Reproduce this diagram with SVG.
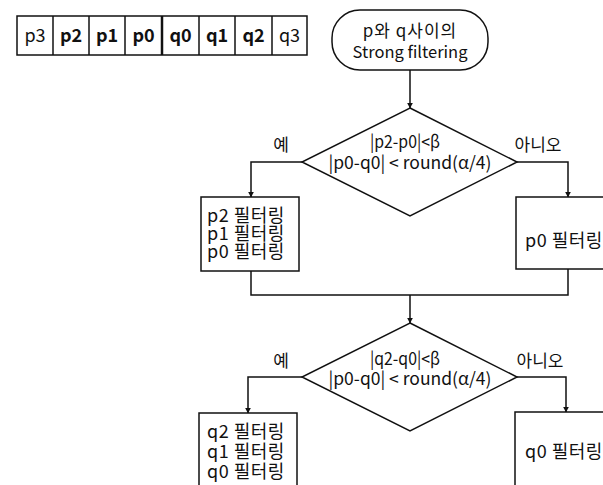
<svg xmlns="http://www.w3.org/2000/svg" width="603" height="485" viewBox="0 0 603 485">
  <style>
    text { font-family: "Noto Sans CJK KR", "Noto Sans", sans-serif; fill: #111; }
    .shape { fill: #fff; stroke: #111; stroke-width: 1.5; }
    .cell { fill: #fff; stroke: #111; stroke-width: 1.5; }
    .cellTxt { font-size: 18px; text-anchor: middle; }
    .bold { font-weight: bold; }
    .mid { text-anchor: middle; font-size: 17.5px; }
    .box { font-size: 18px; letter-spacing: 0.5px; }
    .lbl { font-size: 17px; text-anchor: middle; }
    .conn { fill: none; stroke: #111; stroke-width: 1.5; }
  </style>
  <defs>
    <marker id="arrow" viewBox="0 0 10 10" refX="9" refY="5" markerWidth="6" markerHeight="6" markerUnits="userSpaceOnUse" orient="auto">
      <path d="M0,0 L10,5 L0,10 z" fill="#111"/>
    </marker>
  </defs>
  <rect width="603" height="485" fill="#fff"/>

  <!-- sample strip across the block edge -->
  <g id="samples">
    <rect class="cell" x="17" y="16" width="290" height="39"/>
    <g stroke="#111" stroke-width="1.5">
      <line x1="53" y1="16" x2="53" y2="55"/>
      <line x1="89" y1="16" x2="89" y2="55"/>
      <line x1="125" y1="16" x2="125" y2="55"/>
      <line x1="162" y1="16" x2="162" y2="55" stroke-width="2.5"/>
      <line x1="199" y1="16" x2="199" y2="55"/>
      <line x1="235" y1="16" x2="235" y2="55"/>
      <line x1="272" y1="16" x2="272" y2="55"/>
    </g>
    <text class="cellTxt" x="35" y="42">p3</text>
    <text class="cellTxt bold" x="71" y="42">p2</text>
    <text class="cellTxt bold" x="107" y="42">p1</text>
    <text class="cellTxt bold" x="143.5" y="42">p0</text>
    <text class="cellTxt bold" x="180.5" y="42">q0</text>
    <text class="cellTxt bold" x="217" y="42">q1</text>
    <text class="cellTxt bold" x="253.5" y="42">q2</text>
    <text class="cellTxt" x="289.5" y="42">q3</text>
  </g>

  <!-- connectors -->
  <g id="connectors">
    <line class="conn" x1="410" y1="70" x2="410" y2="108" marker-end="url(#arrow)"/>
    <polyline class="conn" points="302,162 251,162 251,197" marker-end="url(#arrow)"/>
    <polyline class="conn" points="517,162 568,162 568,197" marker-end="url(#arrow)"/>
    <polyline class="conn" points="251,271 251,295 568,295 568,269"/>
    <line class="conn" x1="410" y1="295" x2="410" y2="323" marker-end="url(#arrow)"/>
    <polyline class="conn" points="302,377 248,377 248,413" marker-end="url(#arrow)"/>
    <polyline class="conn" points="517,377 566,377 566,412" marker-end="url(#arrow)"/>
  </g>

  <g id="start">
    <rect class="shape" x="332" y="10" width="156" height="60" rx="28" ry="28"/>
    <text class="mid" x="410" y="37" style="font-size:17px;letter-spacing:1px">p와 q사이의</text>
    <text class="mid" x="410" y="58" style="font-size:16.5px">Strong filtering</text>
  </g>

  <g id="decision-p">
    <polygon class="shape" points="410,108 517,162 410,216 302,162"/>
    <text class="mid" x="405" y="148" textLength="70" lengthAdjust="spacingAndGlyphs">|p2-p0|&lt;β</text>
    <text class="mid" x="410" y="169">|p0-q0| &lt; round(α/4)</text>
  </g>
  <text id="label-p-yes" class="lbl" x="281" y="151">예</text>
  <text id="label-p-no" class="lbl" x="538" y="151">아니오</text>

  <g id="filter-p-strong">
    <rect class="shape" x="201" y="197" width="98" height="74"/>
    <text class="box" x="207" y="222">p2 필터링</text>
    <text class="box" x="207" y="240">p1 필터링</text>
    <text class="box" x="207" y="258">p0 필터링</text>
  </g>

  <g id="filter-p-weak">
    <rect class="shape" x="516" y="197" width="100" height="72"/>
    <text class="box" x="525" y="247">p0 필터링</text>
  </g>

  <g id="decision-q">
    <polygon class="shape" points="410,323 517,377 410,431 302,377"/>
    <text class="mid" x="405" y="365" textLength="70" lengthAdjust="spacingAndGlyphs">|q2-q0|&lt;β</text>
    <text class="mid" x="410" y="385">|p0-q0| &lt; round(α/4)</text>
  </g>
  <text id="label-q-yes" class="lbl" x="281" y="367">예</text>
  <text id="label-q-no" class="lbl" x="540" y="367">아니오</text>

  <g id="filter-q-strong">
    <rect class="shape" x="199" y="413" width="98" height="80"/>
    <text class="box" x="207" y="438">q2 필터링</text>
    <text class="box" x="207" y="458">q1 필터링</text>
    <text class="box" x="207" y="478">q0 필터링</text>
  </g>

  <g id="filter-q-weak">
    <rect class="shape" x="515" y="412" width="100" height="80"/>
    <text class="box" x="525" y="458">q0 필터링</text>
  </g>
</svg>
